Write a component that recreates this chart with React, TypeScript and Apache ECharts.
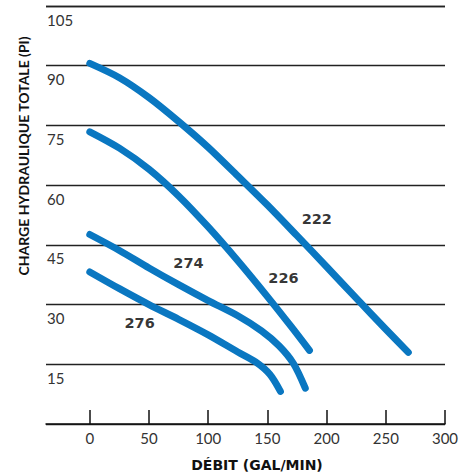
import React, { useEffect, useRef } from "react";
import * as echarts from "echarts";

const xTicks = [0, 50, 100, 150, 200, 250, 300];
const xMin = -37;
const xMax = 300;
const yTop = 105;

const curve222: [number, number][] = [
  [0, 90.6], [25, 87], [50, 82], [75, 76], [100, 69.5], [125, 62.3], [150, 55],
  [175, 47.3], [200, 39.5], [225, 31.6], [250, 23.8], [269, 18],
];
const curve226: [number, number][] = [
  [0, 73.4], [25, 69.3], [50, 64], [75, 57.3], [100, 49.5], [125, 41], [150, 32],
  [170, 24.5], [185.5, 18.5],
];
const curve274: [number, number][] = [
  [0, 47.6], [25, 43.6], [50, 39.2], [75, 35], [100, 31], [125, 27.2], [145, 23.4],
  [160, 19.6], [172, 15.2], [182, 9],
];
const curve276: [number, number][] = [
  [0, 38.2], [25, 34], [50, 30], [75, 26.3], [100, 22.4], [125, 18.1], [140, 15.6],
  [152, 12.5], [161, 8.2],
];

const curveNames = ["222", "226", "274", "276"];
const curveLabelPos: [number, number][] = [
  [191.7, 51.6],
  [163.6, 36.7],
  [83.3, 40.4],
  [42.1, 25.4],
];

const xName = "DÉBIT (GAL/MIN)";
const yName = "CHARGE HYDRAULIQUE TOTALE (PI)";

const BLUE = "#0a77c1";
const FONT = "Lato, 'Open Sans', sans-serif";
const BOLD_FONT = "'DejaVu Sans', sans-serif";

export default function App() {
  const ref = useRef<HTMLDivElement>(null);
  useEffect(() => {
    if (!ref.current) return;
    document.body.style.margin = "0";
    const chart = echarts.init(ref.current, null, { renderer: "svg" });
    const curves = [curve222, curve226, curve274, curve276];
    chart.setOption({
      animation: false,
      backgroundColor: "#fff",
      grid: { left: 46, right: 25, top: 6, bottom: 52, containLabel: false },
      xAxis: {
        type: "value",
        min: xMin,
        max: xMax,
        axisLine: { show: true, lineStyle: { color: "#111", width: 1.5 } },
        axisTick: {
          show: true,
          inside: true,
          length: 14,
          customValues: xTicks,
          lineStyle: { color: "#111", width: 1.5 },
        },
        axisLabel: {
          customValues: xTicks,
          margin: 6,
          fontSize: 15,
          color: "#333",
          fontFamily: FONT,
        },
        splitLine: { show: false },
      },
      yAxis: {
        type: "value",
        min: 0,
        max: yTop,
        interval: 15,
        axisLine: { show: false },
        axisTick: { show: false },
        axisLabel: {
          inside: true,
          margin: 1,
          align: "left",
          verticalAlign: "top",
          padding: [6, 0, 0, 0],
          fontSize: 15,
          color: "#333",
          fontFamily: FONT,
          formatter: (v: number) => (v === 0 ? "" : String(v)),
        },
        splitLine: {
          show: true,
          showMaxLine: true,
          lineStyle: { color: "#222", width: 1.3 },
        },
      },
      series: [
        ...curves.map((c, i) => ({
          type: "line",
          name: curveNames[i],
          data: c,
          smooth: 0.3,
          symbol: "none",
          lineStyle: { color: BLUE, width: 7, cap: "round", join: "round" },
          z: 3,
        })),
        {
          type: "scatter",
          data: curveLabelPos.map((p, i) => ({ value: p, name: curveNames[i] })),
          symbolSize: 1,
          itemStyle: { color: "rgba(0,0,0,0)" },
          silent: true,
          z: 4,
          label: {
            show: true,
            position: "inside",
            align: "center",
            verticalAlign: "middle",
            formatter: (p: any) => p.name,
            fontSize: 14.5,
            fontWeight: "bold",
            color: "#000",
            fontFamily: BOLD_FONT,
          },
        },
      ],
      graphic: [
        {
          type: "text",
          x: 257,
          y: 465,
          style: {
            text: xName,
            fontSize: 14,
            fontWeight: "bold",
            fill: "#111",
            fontFamily: BOLD_FONT,
            align: "center",
            verticalAlign: "middle",
          },
        },
        {
          type: "text",
          x: 23,
          y: 156,
          rotation: Math.PI / 2,
          style: {
            text: yName,
            fontSize: 14,
            fontWeight: "bold",
            fill: "#111",
            fontFamily: FONT,
            align: "center",
            verticalAlign: "middle",
          },
        },
        {
          type: "line",
          z: 100,
          silent: true,
          shape: { x1: 46, y1: 6.5, x2: 445, y2: 6.5 },
          style: { stroke: "#222", lineWidth: 1.5 },
        },
      ],
    });
    return () => chart.dispose();
  }, []);
  return <div ref={ref} style={{ width: 470, height: 476 }} />;
}
